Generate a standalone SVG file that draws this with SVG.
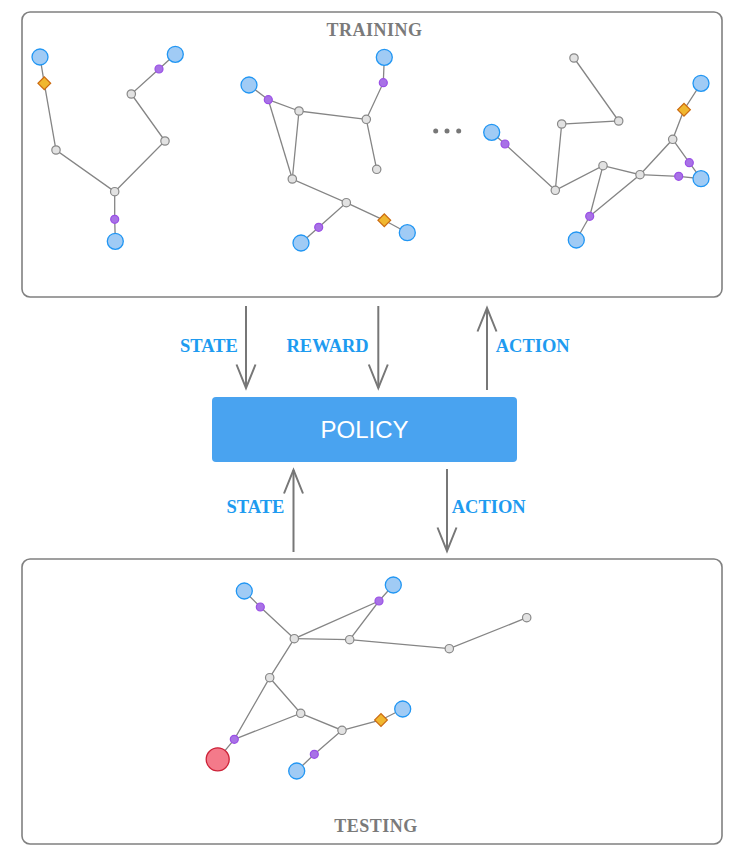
<svg xmlns="http://www.w3.org/2000/svg" width="747" height="859" viewBox="0 0 747 859">
<style>
.box{fill:#fff;stroke:#808080;stroke-width:1.6}
.e{stroke:#858585;stroke-width:1.3;fill:none}
.b{fill:#a0cbf5;stroke:#2196f3;stroke-width:1.3}
.p{fill:#a872e6;stroke:#9a4fe6;stroke-width:1.2}
.g{fill:#e2e2e2;stroke:#888;stroke-width:1.2}
.d{fill:#f0b72f;stroke:#cc6a10;stroke-width:1.2}
.r{fill:#f47a8a;stroke:#cc2238;stroke-width:1.3}
.arrow{stroke:#777;stroke-width:2;fill:none}
.lbl{font-family:"Liberation Serif","Times New Roman",serif;font-weight:bold;font-size:18.5px;fill:#1e9bf0}
.ttl{font-family:"Liberation Serif","Times New Roman",serif;font-weight:bold;font-size:18px;fill:#7a7a7a;letter-spacing:0.5px;text-anchor:middle}
</style>
<defs>
<marker id="arr" markerUnits="userSpaceOnUse" markerWidth="30" markerHeight="24" viewBox="-26 -12 30 24" refX="0" refY="0" orient="auto">
<path d="M-23.5,-9.5 L0,0 L-23.5,9.5" fill="none" stroke="#777" stroke-width="2"/>
</marker>
</defs>

<g id="training">
<rect class="box" x="22" y="12" width="700" height="285" rx="8"/>
<text class="ttl" x="374.5" y="35.5">TRAINING</text>
<g id="ellipsis" fill="#777"><circle cx="435.7" cy="131" r="2.5"/><circle cx="447" cy="131" r="2.5"/><circle cx="458.7" cy="131" r="2.5"/></g>
</g>

<g id="testing">
<rect class="box" x="22" y="559" width="700" height="285" rx="8"/>
<text class="ttl" x="376" y="831.5">TESTING</text>
</g>

<g id="policy">
<rect x="212" y="397" width="305" height="65" rx="4" fill="#49a3f0"/>
<text x="364.5" y="438" font-family="Liberation Sans, Arial, sans-serif" font-size="24" fill="#fff" text-anchor="middle">POLICY</text>
</g>

<g id="connectors">
<line class="arrow" x1="246" y1="306" x2="246" y2="388" marker-end="url(#arr)"/>
<line class="arrow" x1="378.3" y1="306" x2="378.3" y2="388" marker-end="url(#arr)"/>
<line class="arrow" x1="487" y1="390" x2="487" y2="308" marker-end="url(#arr)"/>
<line class="arrow" x1="293.5" y1="552" x2="293.5" y2="470" marker-end="url(#arr)"/>
<line class="arrow" x1="447" y1="469" x2="447" y2="551" marker-end="url(#arr)"/>
<text class="lbl" x="180" y="352.3">STATE</text>
<text class="lbl" x="286.5" y="352.3">REWARD</text>
<text class="lbl" x="495.7" y="352.3">ACTION</text>
<text class="lbl" x="226.5" y="513.3">STATE</text>
<text class="lbl" x="451.7" y="513.3">ACTION</text>

<g id="edges-t1">
<polyline class="e" points="40,57 44.3,83.3 56,150 114.7,191.7 114.7,219.3 115.3,241.3"/>
<polyline class="e" points="114.7,191.7 165,141 131.3,94 159,69 175.3,54.3"/>
</g>
<g id="edges-t2">
<polyline class="e" points="384.3,57.3 383.3,82.7 366.3,119.3 376.7,169.3"/>
<polyline class="e" points="366.3,119.3 299,111 292.3,179 346.3,202.7 318.7,227.3 301,243"/>
<polyline class="e" points="249,85 268.3,99.7 299,111"/>
<line class="e" x1="268.3" y1="99.7" x2="292.3" y2="179"/>
<polyline class="e" points="346.3,202.7 384.3,220.3 407.3,232.7"/>
</g>
<g id="edges-t3">
<polyline class="e" points="574,58 618.7,121 561.7,124 555.3,190.3 603,165.7 640,174.7 672.7,139.3 684,109.7 701,83.3"/>
<polyline class="e" points="491.7,132.3 505,144 555.3,190.3"/>
<polyline class="e" points="603,165.7 589.7,216.3 640,174.7 678.7,176.3 701,178.7 689.3,162.7 672.7,139.3"/>
<line class="e" x1="589.7" y1="216.3" x2="576.3" y2="240"/>
</g>
<g id="edges-test">
<polyline class="e" points="244.3,591 260.3,607 294.3,638.7 379,601 393.3,585"/>
<polyline class="e" points="294.3,638.7 349.7,639.7 379,601"/>
<polyline class="e" points="349.7,639.7 449.3,648.7 526.7,617.7"/>
<polyline class="e" points="294.3,638.7 269.7,677.7 234.3,739.3 217.7,759.3"/>
<polyline class="e" points="269.7,677.7 300.7,713.3 234.3,739.3"/>
<polyline class="e" points="300.7,713.3 342,730.3 314.3,754.3 296.7,771"/>
<polyline class="e" points="342,730.3 381,720 402.7,709"/>
</g>
</g>

<g id="t1-b1"><circle class="b" cx="40" cy="57" r="8"/></g>
<g id="t1-d1"><rect class="d" x="39.8" y="78.8" width="9" height="9" transform="rotate(45 44.3 83.3)"/></g>
<g id="t1-g1"><circle class="g" cx="56" cy="150" r="4.2"/></g>
<g id="t1-g2"><circle class="g" cx="114.7" cy="191.7" r="4.2"/></g>
<g id="t1-p1"><circle class="p" cx="114.7" cy="219.3" r="4"/></g>
<g id="t1-b2"><circle class="b" cx="115.3" cy="241.3" r="8"/></g>
<g id="t1-g3"><circle class="g" cx="165" cy="141" r="4.2"/></g>
<g id="t1-g4"><circle class="g" cx="131.3" cy="94" r="4.2"/></g>
<g id="t1-p2"><circle class="p" cx="159" cy="69" r="4"/></g>
<g id="t1-b3"><circle class="b" cx="175.3" cy="54.3" r="8"/></g>

<g id="t2-b4"><circle class="b" cx="384.3" cy="57.3" r="8"/></g>
<g id="t2-p3"><circle class="p" cx="383.3" cy="82.7" r="4"/></g>
<g id="t2-g5"><circle class="g" cx="366.3" cy="119.3" r="4.2"/></g>
<g id="t2-g6"><circle class="g" cx="376.7" cy="169.3" r="4.2"/></g>
<g id="t2-b5"><circle class="b" cx="249" cy="85" r="8"/></g>
<g id="t2-p4"><circle class="p" cx="268.3" cy="99.7" r="4"/></g>
<g id="t2-g7"><circle class="g" cx="299" cy="111" r="4.2"/></g>
<g id="t2-g8"><circle class="g" cx="292.3" cy="179" r="4.2"/></g>
<g id="t2-g9"><circle class="g" cx="346.3" cy="202.7" r="4.2"/></g>
<g id="t2-p5"><circle class="p" cx="318.7" cy="227.3" r="4"/></g>
<g id="t2-b6"><circle class="b" cx="301" cy="243" r="8"/></g>
<g id="t2-d2"><rect class="d" x="379.8" y="215.8" width="9" height="9" transform="rotate(45 384.3 220.3)"/></g>
<g id="t2-b7"><circle class="b" cx="407.3" cy="232.7" r="8"/></g>

<g id="t3-g10"><circle class="g" cx="574" cy="58" r="4.2"/></g>
<g id="t3-g11"><circle class="g" cx="618.7" cy="121" r="4.2"/></g>
<g id="t3-g12"><circle class="g" cx="561.7" cy="124" r="4.2"/></g>
<g id="t3-b8"><circle class="b" cx="491.7" cy="132.3" r="8"/></g>
<g id="t3-p6"><circle class="p" cx="505" cy="144" r="4"/></g>
<g id="t3-g13"><circle class="g" cx="555.3" cy="190.3" r="4.2"/></g>
<g id="t3-g14"><circle class="g" cx="603" cy="165.7" r="4.2"/></g>
<g id="t3-g15"><circle class="g" cx="640" cy="174.7" r="4.2"/></g>
<g id="t3-p7"><circle class="p" cx="589.7" cy="216.3" r="4"/></g>
<g id="t3-b9"><circle class="b" cx="576.3" cy="240" r="8"/></g>
<g id="t3-p8"><circle class="p" cx="678.7" cy="176.3" r="4"/></g>
<g id="t3-b10"><circle class="b" cx="701" cy="178.7" r="8"/></g>
<g id="t3-g16"><circle class="g" cx="672.7" cy="139.3" r="4.2"/></g>
<g id="t3-p9"><circle class="p" cx="689.3" cy="162.7" r="4"/></g>
<g id="t3-d3"><rect class="d" x="679.5" y="105.2" width="9" height="9" transform="rotate(45 684 109.7)"/></g>
<g id="t3-b11"><circle class="b" cx="701" cy="83.3" r="8"/></g>

<g id="s-b1"><circle class="b" cx="244.3" cy="591" r="8"/></g>
<g id="s-p1"><circle class="p" cx="260.3" cy="607" r="4"/></g>
<g id="s-g1"><circle class="g" cx="294.3" cy="638.7" r="4.2"/></g>
<g id="s-g2"><circle class="g" cx="349.7" cy="639.7" r="4.2"/></g>
<g id="s-p2"><circle class="p" cx="379" cy="601" r="4"/></g>
<g id="s-b2"><circle class="b" cx="393.3" cy="585" r="8"/></g>
<g id="s-g3"><circle class="g" cx="449.3" cy="648.7" r="4.2"/></g>
<g id="s-g4"><circle class="g" cx="526.7" cy="617.7" r="4.2"/></g>
<g id="s-g5"><circle class="g" cx="269.7" cy="677.7" r="4.2"/></g>
<g id="s-g6"><circle class="g" cx="300.7" cy="713.3" r="4.2"/></g>
<g id="s-p3"><circle class="p" cx="234.3" cy="739.3" r="4"/></g>
<g id="s-red"><circle class="r" cx="217.7" cy="759.3" r="11.5"/></g>
<g id="s-g7"><circle class="g" cx="342" cy="730.3" r="4.2"/></g>
<g id="s-p4"><circle class="p" cx="314.3" cy="754.3" r="4"/></g>
<g id="s-b3"><circle class="b" cx="296.7" cy="771" r="8"/></g>
<g id="s-d"><rect class="d" x="376.5" y="715.5" width="9" height="9" transform="rotate(45 381 720)"/></g>
<g id="s-b4"><circle class="b" cx="402.7" cy="709" r="8"/></g>
</svg>
